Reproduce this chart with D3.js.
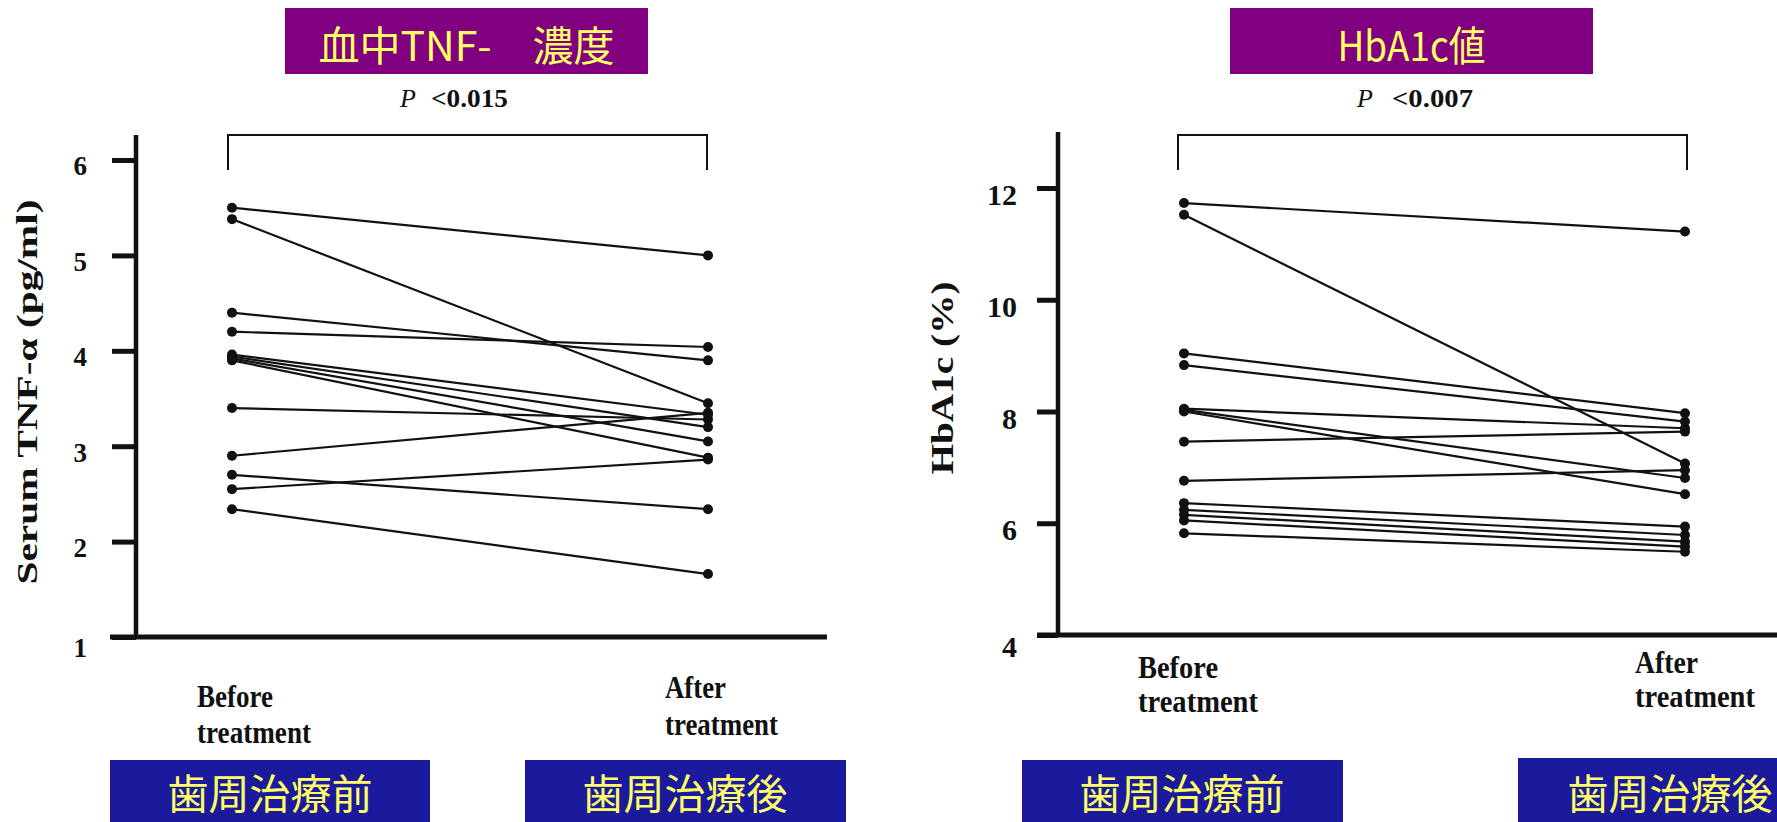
<!DOCTYPE html>
<html><head><meta charset="utf-8">
<script src="https://cdn.jsdelivr.net/npm/d3@7"></script>
<style>body{margin:0;background:#fff;overflow:hidden} svg{display:block}</style>
</head><body>
<svg id="c" width="1777" height="822"></svg>
<script>
// ---------- data ----------
const categories = ["Before treatment", "After treatment"];
const tnfBefore = [5.50, 5.38, 4.40, 4.20, 3.96, 3.94, 3.92, 3.90, 3.40, 2.90, 2.70, 2.55, 2.34];
const tnfAfter  = [5.00, 3.45, 3.90, 4.04, 3.33, 3.20, 3.05, 2.88, 3.28, 3.35, 2.34, 2.86, 1.66];
const hbBefore  = [11.73, 11.52, 9.04, 8.83, 8.05, 8.03, 8.00, 7.46, 6.76, 6.36, 6.24, 6.15, 6.05, 5.82];
const hbAfter   = [11.22, 7.07, 7.97, 7.82, 7.70, 6.81, 6.52, 7.64, 6.95, 5.94, 5.79, 5.67, 5.58, 5.49];
const tnfTicks = [1, 2, 3, 4, 5, 6];
const hbTicks = [4, 6, 8, 10, 12];
const tnfDomain = [1, 6];
const hbDomain = [4, 12];
const panelTitles = ["血中TNF-　濃度", "HbA1c値"];
const pLabels = ["<0.015", "<0.007"];
const yTitles = ["Serum TNF-α (pg/ml)", "HbA1c (%)"];
const boxLabels = ["歯周治療前", "歯周治療後"];

// ---------- layout ----------
const layouts = [
  { xr: [232, 708], yr: [637, 160], axisX: 136, axisTop: 135, baseL: 110, baseR: 827,
    tickSize: 24, tickPad: 25, tickFont: 27,
    tbox: [285, 8, 363, 66], tlen: 296,
    pX: 400, pX2: 431, pLen: 77, pY: 107, brY: 135, brB: 170, brL: -4, brR: -1,
    cat: [{x: 197, y: [707, 743], len: [76, 114]}, {x: 665, y: [698, 735], len: [61, 113]}],
    yt: {x: 37, y: 392, len: 385, fs: 30},
    boxes: [[110, 760, 320, 160], [525, 760, 321, 160]] },
  { xr: [1184, 1685], yr: [635, 188], axisX: 1058, axisTop: 132, baseL: 1037, baseR: 1777,
    tickSize: 21, tickPad: 20, tickFont: 30,
    tbox: [1230, 8, 363, 66], tlen: 148,
    pX: 1357, pX2: 1392, pLen: 81, pY: 107, brY: 135, brB: 170, brL: -6, brR: 2,
    cat: [{x: 1138, y: [678, 712], len: [80, 120]}, {x: 1635, y: [673, 707], len: [63, 120]}],
    yt: {x: 953, y: 378, len: 193, fs: 32},
    boxes: [[1022, 760, 321, 160], [1518, 758, 321, 152]] }
];

const panels = [
  { before: tnfBefore, after: tnfAfter, ticks: tnfTicks, domain: tnfDomain },
  { before: hbBefore, after: hbAfter, ticks: hbTicks, domain: hbDomain }
];

const svg = d3.select("#c");
const serif = "'Liberation Serif','DejaVu Serif',serif";
const cjk = "'Noto Sans CJK JP','Noto Sans CJK SC',sans-serif";
const PURPLE = "#800080", BLUE = "#1c1a9c", YELLOW = "#ffff66", INK = "#111";

panels.forEach((p, i) => {
  const L = layouts[i];
  const g = svg.append("g");
  const x = d3.scalePoint().domain(categories).range(L.xr);
  const y = d3.scaleLinear().domain(p.domain).range(L.yr);

  // title box
  g.append("rect").attr("x", L.tbox[0]).attr("y", L.tbox[1])
    .attr("width", L.tbox[2]).attr("height", L.tbox[3]).attr("fill", PURPLE);
  g.append("text").attr("x", L.tbox[0] + L.tbox[2] / 2).attr("y", 61)
    .attr("text-anchor", "middle").attr("font-family", cjk).attr("font-size", 41)
    .attr("fill", YELLOW).attr("textLength", L.tlen).attr("lengthAdjust", "spacingAndGlyphs")
    .text(panelTitles[i]);

  // P value
  g.append("text").attr("x", L.pX).attr("y", L.pY).attr("font-family", serif)
    .attr("font-style", "italic").attr("font-size", 26).attr("fill", INK).text("P");
  g.append("text").attr("x", L.pX2).attr("y", L.pY).attr("font-family", serif)
    .attr("font-size", 26).attr("font-weight", "bold").attr("fill", INK).attr("textLength", L.pLen)
    .attr("lengthAdjust", "spacingAndGlyphs").text(pLabels[i]);

  // bracket
  const bx0 = x(categories[0]) + L.brL, bx1 = x(categories[1]) + L.brR;
  g.append("path").attr("d", `M${bx0},${L.brB}V${L.brY}H${bx1}V${L.brB}`)
    .attr("fill", "none").attr("stroke", INK).attr("stroke-width", 2);

  // y axis
  const ax = g.append("g").attr("transform", `translate(${L.axisX},0)`)
    .call(d3.axisLeft(y).tickValues(p.ticks).tickSize(L.tickSize).tickPadding(L.tickPad)
      .tickFormat(d3.format("d")));
  ax.select(".domain").remove();
  ax.selectAll(".tick line").attr("stroke", INK).attr("stroke-width", 5);
  ax.selectAll(".tick text").attr("font-family", serif).attr("font-size", L.tickFont)
    .attr("font-weight", "bold")
    .attr("fill", INK).attr("dy", (d) => d === p.domain[0] ? "0.72em" : "0.55em");
  // vertical axis line
  g.append("line").attr("x1", L.axisX).attr("x2", L.axisX)
    .attr("y1", L.axisTop).attr("y2", y(p.domain[0]))
    .attr("stroke", INK).attr("stroke-width", 4.5);
  // baseline
  g.append("line").attr("x1", L.baseL).attr("x2", L.baseR)
    .attr("y1", y(p.domain[0])).attr("y2", y(p.domain[0]))
    .attr("stroke", INK).attr("stroke-width", 5);

  // y title
  g.append("text").attr("transform", `translate(${L.yt.x},${L.yt.y}) rotate(-90)`)
    .attr("text-anchor", "middle").attr("font-family", serif).attr("font-weight", "bold")
    .attr("font-size", L.yt.fs).attr("fill", INK)
    .attr("textLength", L.yt.len).attr("lengthAdjust", "spacingAndGlyphs")
    .text(yTitles[i]);

  // category labels
  categories.forEach((c, k) => {
    const parts = c.split(" ");
    parts.forEach((w, j) => {
      g.append("text").attr("x", L.cat[k].x).attr("y", L.cat[k].y[j])
        .attr("font-family", serif).attr("font-weight", "bold").attr("font-size", 32)
        .attr("fill", INK).attr("textLength", L.cat[k].len[j])
        .attr("lengthAdjust", "spacingAndGlyphs").text(w);
    });
  });

  // paired lines
  const pairs = p.before.map((b, k) => [b, p.after[k]]);
  g.append("g").selectAll("line").data(pairs).join("line")
    .attr("x1", x(categories[0])).attr("x2", x(categories[1]))
    .attr("y1", d => y(d[0])).attr("y2", d => y(d[1]))
    .attr("stroke", INK).attr("stroke-width", 2.2);
  g.append("g").selectAll("circle").data(p.before).join("circle")
    .attr("cx", x(categories[0])).attr("cy", d => y(d)).attr("r", 5).attr("fill", INK);
  g.append("g").selectAll("circle").data(p.after).join("circle")
    .attr("cx", x(categories[1])).attr("cy", d => y(d)).attr("r", 5).attr("fill", INK);

  // blue boxes
  L.boxes.forEach((b, k) => {
    g.append("rect").attr("x", b[0]).attr("y", b[1]).attr("width", b[2]).attr("height", 80)
      .attr("fill", BLUE);
    g.append("text").attr("x", b[0] + b[3]).attr("y", 809).attr("text-anchor", "middle")
      .attr("font-family", cjk).attr("font-size", 41).attr("fill", YELLOW)
      .text(boxLabels[k]);
  });
});
</script>
</body></html>
